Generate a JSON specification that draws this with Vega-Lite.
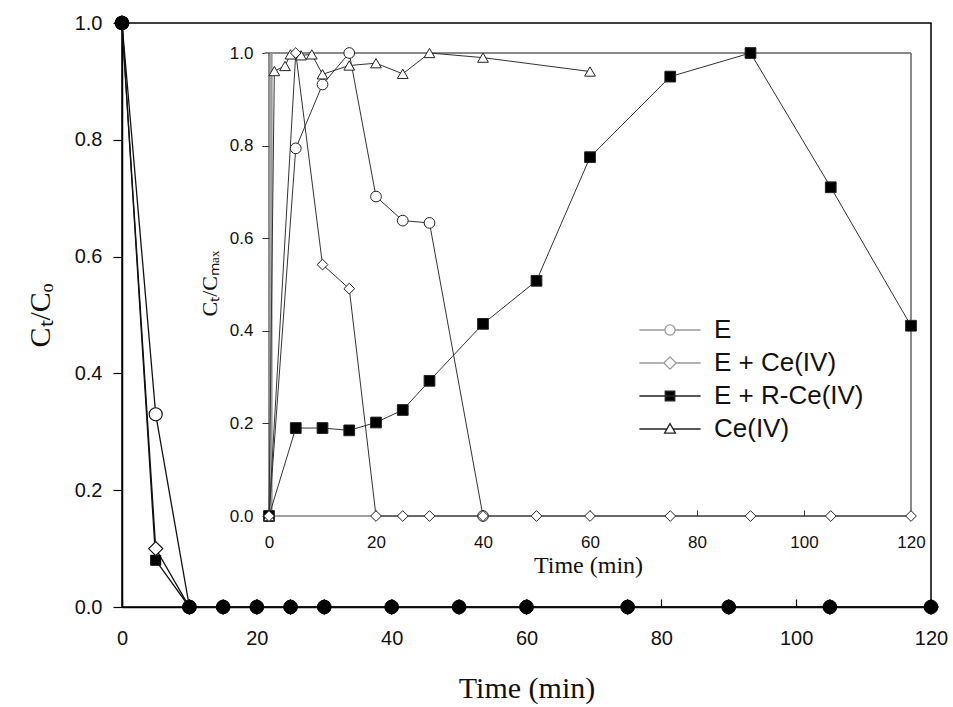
{
  "$schema": "https://vega.github.io/schema/vega-lite/v6.json",
  "width": 809,
  "height": 584,
  "autosize": {"type": "none"},
  "padding": {"left": 122, "top": 23, "right": 22, "bottom": 100},
  "background": "white",
  "config": {
    "view": {"stroke": "#000", "strokeWidth": 1.5},
    "axis": {
      "grid": false,
      "labelFlush": false,
      "labelFont": "Liberation Sans",
      "labelColor": "#111",
      "titleFont": "Liberation Serif",
      "titleFontWeight": "normal",
      "titleColor": "#111",
      "domainColor": "#000",
      "tickColor": "#000"
    }
  },
  "datasets": {
    "main": [
      {"series": "E", "t": 0, "v": 1.0},
      {"series": "E", "t": 5, "v": 0.33},
      {"series": "E", "t": 10, "v": 0.0},
      {"series": "E + R-Ce(IV)", "t": 0, "v": 1.0},
      {"series": "E + R-Ce(IV)", "t": 5, "v": 0.08},
      {"series": "E + R-Ce(IV)", "t": 10, "v": 0.0},
      {"series": "E + Ce(IV)", "t": 0, "v": 1.0},
      {"series": "E + Ce(IV)", "t": 5, "v": 0.1},
      {"series": "E + Ce(IV)", "t": 10, "v": 0.0},
      {"series": "E + Ce(IV)", "t": 15, "v": 0.0},
      {"series": "E + Ce(IV)", "t": 20, "v": 0.0},
      {"series": "E + Ce(IV)", "t": 25, "v": 0.0},
      {"series": "E + Ce(IV)", "t": 30, "v": 0.0},
      {"series": "E + Ce(IV)", "t": 40, "v": 0.0},
      {"series": "E + Ce(IV)", "t": 50, "v": 0.0},
      {"series": "E + Ce(IV)", "t": 60, "v": 0.0},
      {"series": "E + Ce(IV)", "t": 75, "v": 0.0},
      {"series": "E + Ce(IV)", "t": 90, "v": 0.0},
      {"series": "E + Ce(IV)", "t": 105, "v": 0.0},
      {"series": "E + Ce(IV)", "t": 120, "v": 0.0},
      {"series": "Control", "t": 0, "v": 1.0},
      {"series": "Control", "t": 10, "v": 0.0},
      {"series": "Control", "t": 15, "v": 0.0},
      {"series": "Control", "t": 20, "v": 0.0},
      {"series": "Control", "t": 25, "v": 0.0},
      {"series": "Control", "t": 30, "v": 0.0},
      {"series": "Control", "t": 40, "v": 0.0},
      {"series": "Control", "t": 50, "v": 0.0},
      {"series": "Control", "t": 60, "v": 0.0},
      {"series": "Control", "t": 75, "v": 0.0},
      {"series": "Control", "t": 90, "v": 0.0},
      {"series": "Control", "t": 105, "v": 0.0},
      {"series": "Control", "t": 120, "v": 0.0}
    ],
    "inset": [
      {"series": "E", "t": 0, "v": 0.0},
      {"series": "E", "t": 5, "v": 0.794},
      {"series": "E", "t": 10, "v": 0.932},
      {"series": "E", "t": 15, "v": 1.0},
      {"series": "E", "t": 20, "v": 0.69},
      {"series": "E", "t": 25, "v": 0.638},
      {"series": "E", "t": 30, "v": 0.633},
      {"series": "E", "t": 40, "v": 0.0},
      {"series": "E + R-Ce(IV)", "t": 0, "v": 0.0},
      {"series": "E + R-Ce(IV)", "t": 5, "v": 0.19},
      {"series": "E + R-Ce(IV)", "t": 10, "v": 0.19},
      {"series": "E + R-Ce(IV)", "t": 15, "v": 0.185},
      {"series": "E + R-Ce(IV)", "t": 20, "v": 0.202},
      {"series": "E + R-Ce(IV)", "t": 25, "v": 0.229},
      {"series": "E + R-Ce(IV)", "t": 30, "v": 0.292},
      {"series": "E + R-Ce(IV)", "t": 40, "v": 0.415},
      {"series": "E + R-Ce(IV)", "t": 50, "v": 0.508},
      {"series": "E + R-Ce(IV)", "t": 60, "v": 0.775},
      {"series": "E + R-Ce(IV)", "t": 75, "v": 0.949},
      {"series": "E + R-Ce(IV)", "t": 90, "v": 1.0},
      {"series": "E + R-Ce(IV)", "t": 105, "v": 0.71},
      {"series": "E + R-Ce(IV)", "t": 120, "v": 0.411},
      {"series": "Ce(IV)", "t": 0, "v": 0.0},
      {"series": "Ce(IV)", "t": 1, "v": 0.961},
      {"series": "Ce(IV)", "t": 3, "v": 0.972},
      {"series": "Ce(IV)", "t": 4, "v": 0.997},
      {"series": "Ce(IV)", "t": 6, "v": 0.995},
      {"series": "Ce(IV)", "t": 8, "v": 0.997},
      {"series": "Ce(IV)", "t": 10, "v": 0.954},
      {"series": "Ce(IV)", "t": 15, "v": 0.973},
      {"series": "Ce(IV)", "t": 20, "v": 0.978},
      {"series": "Ce(IV)", "t": 25, "v": 0.955},
      {"series": "Ce(IV)", "t": 30, "v": 1.0},
      {"series": "Ce(IV)", "t": 40, "v": 0.99},
      {"series": "Ce(IV)", "t": 60, "v": 0.96},
      {"series": "E + Ce(IV)", "t": 0, "v": 0.0},
      {"series": "E + Ce(IV)", "t": 5, "v": 1.0},
      {"series": "E + Ce(IV)", "t": 10, "v": 0.543},
      {"series": "E + Ce(IV)", "t": 15, "v": 0.491},
      {"series": "E + Ce(IV)", "t": 20, "v": 0.0},
      {"series": "E + Ce(IV)", "t": 25, "v": 0.0},
      {"series": "E + Ce(IV)", "t": 30, "v": 0.0},
      {"series": "E + Ce(IV)", "t": 40, "v": 0.0},
      {"series": "E + Ce(IV)", "t": 50, "v": 0.0},
      {"series": "E + Ce(IV)", "t": 60, "v": 0.0},
      {"series": "E + Ce(IV)", "t": 75, "v": 0.0},
      {"series": "E + Ce(IV)", "t": 90, "v": 0.0},
      {"series": "E + Ce(IV)", "t": 105, "v": 0.0},
      {"series": "E + Ce(IV)", "t": 120, "v": 0.0}
    ]
  },
  "layer": [
    {
      "data": {"name": "main"},
      "encoding": {
        "x": {
          "field": "t", "type": "quantitative",
          "scale": {"domain": [0, 120], "nice": false, "zero": false},
          "axis": {
            "values": [0, 20, 40, 60, 80, 100, 120], "format": "d",
            "labelFontSize": 20, "tickSize": -8, "labelPadding": 29,
            "domainWidth": 1.5, "tickWidth": 1.2,
            "title": "Time (min)", "titleFontSize": 30, "titlePadding": 25
          }
        },
        "y": {
          "field": "v", "type": "quantitative",
          "scale": {"domain": [0, 1], "nice": false},
          "axis": {
            "values": [0, 0.2, 0.4, 0.6, 0.8, 1.0], "format": ".1f",
            "labelFontSize": 20, "tickSize": 9, "labelPadding": 11,
            "domainWidth": 1.5, "tickWidth": 1.2,
            "title": "Cₜ/Cₒ", "titleFontSize": 30, "titlePadding": 19
          }
        }
      },
      "layer": [
        {
          "transform": [{"filter": "datum.series !== 'Control'"}],
          "mark": {"type": "line", "color": "#111", "strokeWidth": 1.3},
          "encoding": {"detail": {"field": "series"}}
        },
        {
          "transform": [{"filter": "datum.series === 'E'"}],
          "mark": {"type": "point", "shape": "circle", "filled": true, "fill": "#fff", "stroke": "#111", "strokeWidth": 1.2, "size": 170, "opacity": 1}
        },
        {
          "transform": [{"filter": "datum.series === 'E + R-Ce(IV)'"}],
          "mark": {"type": "point", "shape": "square", "filled": true, "fill": "#000", "stroke": "#000", "strokeWidth": 1, "size": 100, "opacity": 1}
        },
        {
          "transform": [{"filter": "datum.series === 'E + Ce(IV)'"}],
          "mark": {"type": "point", "shape": "diamond", "filled": true, "fill": "#fff", "stroke": "#111", "strokeWidth": 1.2, "size": 200, "opacity": 1}
        },
        {
          "transform": [{"filter": "datum.series === 'Control'"}],
          "mark": {"type": "point", "shape": "circle", "filled": true, "fill": "#000", "stroke": "#000", "strokeWidth": 1, "size": 190, "opacity": 1}
        },
        {
          "data": {"values": [{"label": "(a)"}]},
          "mark": {"type": "text", "font": "Liberation Sans", "fontSize": 22, "color": "#111"},
          "encoding": {"x": {"datum": 6.7}, "y": {"datum": 0.92}, "text": {"field": "label"}}
        }
      ]
    },
    {
      "data": {"name": "inset"},
      "encoding": {
        "x": {
          "field": "t", "type": "quantitative",
          "scale": {"domain": [-27.477, 123.738], "nice": false, "zero": false},
          "axis": {
            "orient": "bottom", "offset": -91, "domain": false,
            "values": [0, 20, 40, 60, 80, 100, 120], "format": "d",
            "labelFontSize": 17, "tickSize": -6, "labelPadding": 24,
            "tickColor": "#333", "tickWidth": 1,
            "title": "Time (min)", "titleFontSize": 24, "titlePadding": 3, "titleX": 466
          }
        },
        "y": {
          "field": "v", "type": "quantitative",
          "scale": {"domain": [-0.1965, 1.0648], "nice": false, "zero": false},
          "axis": {
            "orient": "left", "offset": -147, "domain": false,
            "values": [0, 0.2, 0.4, 0.6, 0.8, 1.0], "format": ".1f",
            "labelFontSize": 17, "tickSize": 7, "labelPadding": 9,
            "tickColor": "#333", "tickWidth": 1,
            "title": "Cₜ/Cₘₐₓ", "titleFontSize": 22, "titlePadding": 8, "titleY": 260
          }
        }
      },
      "layer": [
        {
          "transform": [{"filter": "datum.series === 'E' && datum.t === 0"}],
          "mark": {"type": "rule", "color": "#8a8a8a", "strokeWidth": 2},
          "encoding": {"x": {"datum": -0.8}, "x2": {"datum": 120}, "y": {"datum": 1}}
        },
        {
          "transform": [{"filter": "datum.series === 'E' && datum.t === 0"}],
          "mark": {"type": "rule", "color": "#8a8a8a", "strokeWidth": 2},
          "encoding": {"x": {"datum": 120}, "y": {"datum": 0}, "y2": {"datum": 1}}
        },
        {
          "transform": [{"filter": "datum.series === 'E' && datum.t === 0"}],
          "mark": {"type": "rule", "color": "#9a9a9a", "strokeWidth": 2.5},
          "encoding": {"x": {"datum": 0.45}, "y": {"datum": 0}, "y2": {"datum": 1}}
        },
        {
          "transform": [{"filter": "datum.series === 'E' && datum.t === 0"}],
          "mark": {"type": "rule", "color": "#444", "strokeWidth": 1.2},
          "encoding": {"x": {"datum": 0}, "x2": {"datum": 120}, "y": {"datum": 0}}
        },
        {
          "transform": [{"filter": "datum.series === 'E' && datum.t === 0"}],
          "mark": {"type": "rule", "color": "#444", "strokeWidth": 1.2},
          "encoding": {"x": {"datum": 0}, "y": {"datum": 0}, "y2": {"datum": 1}}
        },
        {
          "mark": {"type": "line", "color": "#333", "strokeWidth": 1},
          "encoding": {"detail": {"field": "series"}}
        },
        {
          "mark": {"type": "point", "filled": true, "stroke": "#222", "strokeWidth": 1, "size": 115, "opacity": 1},
          "encoding": {
            "shape": {
              "field": "series", "type": "nominal",
              "scale": {
                "domain": ["E", "E + Ce(IV)", "E + R-Ce(IV)", "Ce(IV)"],
                "range": ["circle", "diamond", "square", "triangle-up"]
              },
              "legend": null
            },
            "fill": {
              "field": "series", "type": "nominal",
              "scale": {
                "domain": ["E", "E + Ce(IV)", "E + R-Ce(IV)", "Ce(IV)"],
                "range": ["#fff", "#fff", "#000", "#fff"]
              },
              "legend": null
            }
          }
        },
        {
          "transform": [{"filter": "datum.t === 0"}],
          "mark": {"type": "point", "filled": true, "opacity": 0},
          "encoding": {
            "shape": {
              "field": "series", "type": "nominal",
              "scale": {
                "domain": ["E", "E + Ce(IV)", "E + R-Ce(IV)", "Ce(IV)"],
                "range": [
                  "M-1.8,0H-0.3M0.3,0H1.8M-0.3,0A0.3,0.3,0,1,1,0.3,0A0.3,0.3,0,1,1,-0.3,0Z",
                  "M-1.8,0H-0.36M0.36,0H1.8M-0.36,0L0,-0.36L0.36,0L0,0.36Z",
                  "M-1.8,0H1.8M-0.28,-0.28H0.28V0.28H-0.28Z",
                  "M-1.8,0H-0.18M0.18,0H1.8M0,-0.32L0.32,0.24L-0.32,0.24Z"
                ]
              },
              "legend": {
                "orient": "none", "legendX": 530, "legendY": 289,
                "title": null, "padding": 0, "rowPadding": 2,
                "symbolSize": 1156, "symbolStrokeWidth": 1.3, "symbolOpacity": 1,
                "labelOffset": 26,
                "labelFont": "Liberation Sans", "labelFontSize": 26, "labelColor": "#111",
                "labelLimit": 0
              }
            },
            "fill": {
              "field": "series", "type": "nominal",
              "scale": {
                "domain": ["E", "E + Ce(IV)", "E + R-Ce(IV)", "Ce(IV)"],
                "range": ["#fff", "#fff", "#000", "#fff"]
              },
              "legend": {
                "orient": "none", "legendX": 530, "legendY": 289,
                "title": null, "padding": 0, "rowPadding": 2,
                "symbolSize": 1156, "symbolStrokeWidth": 1.3, "symbolOpacity": 1,
                "labelOffset": 26,
                "labelFont": "Liberation Sans", "labelFontSize": 26, "labelColor": "#111",
                "labelLimit": 0
              }
            },
            "stroke": {
              "field": "series", "type": "nominal",
              "scale": {
                "domain": ["E", "E + Ce(IV)", "E + R-Ce(IV)", "Ce(IV)"],
                "range": ["#9a9a9a", "#9a9a9a", "#222", "#222"]
              },
              "legend": {
                "orient": "none", "legendX": 530, "legendY": 289,
                "title": null, "padding": 0, "rowPadding": 2,
                "symbolSize": 1156, "symbolStrokeWidth": 1.3, "symbolOpacity": 1,
                "labelOffset": 26,
                "labelFont": "Liberation Sans", "labelFontSize": 26, "labelColor": "#111",
                "labelLimit": 0
              }
            }
          }
        }
      ],
      "resolve": {"scale": {"shape": "independent", "fill": "independent", "stroke": "independent"}}
    }
  ],
  "resolve": {
    "scale": {"x": "independent", "y": "independent", "shape": "independent", "fill": "independent", "stroke": "independent"},
    "axis": {"x": "independent", "y": "independent"}
  }
}
